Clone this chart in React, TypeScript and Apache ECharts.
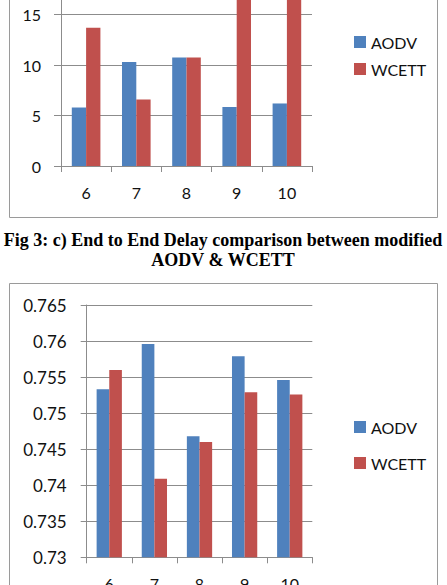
import React, { useEffect, useRef } from "react";
import * as echarts from "echarts";

const nodeCounts = ["6", "7", "8", "9", "10"];
const seriesNames = ["AODV", "WCETT"];
const delayAodv = [5.8, 10.3, 10.75, 5.85, 6.2];
const delayWcett = [13.7, 6.6, 10.75, 18.4, 18.1];
const ratioAodv = [0.7533, 0.7596, 0.7468, 0.7579, 0.7546];
const ratioWcett = [0.756, 0.7409, 0.746, 0.7529, 0.7526];
const captionLines = [
  "Fig 3: c) End to End Delay comparison between modified",
  "AODV & WCETT",
];

const BLUE = "#4F81BD";
const RED = "#C0504D";
const GRID_GRAY = "#8c8c8c";
const FONT = "Lato";
const OFF = 60; // the chart canvas starts above the visible page

export default function App() {
  const ref = useRef<HTMLDivElement>(null);
  useEffect(() => {
    if (!ref.current) return;
    const chart = echarts.init(ref.current, undefined, { renderer: "svg" });
    const axisLine = { show: true, lineStyle: { color: GRID_GRAY, width: 1 } };
    const xAxisBase = {
      type: "category" as const,
      data: nodeCounts,
      axisLine,
      axisTick: { show: true, length: 6, lineStyle: { color: GRID_GRAY } },
      axisLabel: { color: "#111", fontFamily: FONT, fontSize: 16, margin: 18 },
    };
    const legendBase = {
      orient: "vertical" as const,
      left: 354,
      padding: 0,
      itemWidth: 12,
      itemHeight: 12,
      icon: "rect",
      itemTextGap: 4,
      textStyle: { color: "#111", fontFamily: FONT, fontSize: 16 },
      data: seriesNames,
    };
    chart.setOption({
      animation: false,
      backgroundColor: "#ffffff",
      color: [BLUE, RED],
      grid: [
        { left: 61, width: 251, top: OFF - 35.7, height: 201.7 },
        { left: 86.7, width: 225.6, top: OFF + 305, height: 252.3 },
      ],
      xAxis: [
        { ...xAxisBase, gridIndex: 0 },
        { ...xAxisBase, gridIndex: 1 },
      ],
      yAxis: [
        {
          type: "value",
          gridIndex: 0,
          min: 0,
          max: 20,
          interval: 5,
          axisLine,
          axisTick: { show: true, length: 7, lineStyle: { color: GRID_GRAY } },
          splitLine: { lineStyle: { color: GRID_GRAY } },
          axisLabel: { color: "#111", fontFamily: FONT, fontSize: 16, margin: 20, showMaxLabel: false },
        },
        {
          type: "value",
          gridIndex: 1,
          min: 0.73,
          max: 0.765,
          interval: 0.005,
          axisLine,
          axisTick: { show: true, length: 6, lineStyle: { color: GRID_GRAY } },
          splitLine: { lineStyle: { color: GRID_GRAY } },
          axisLabel: { color: "#111", fontFamily: FONT, fontSize: 17, margin: 20 },
        },
      ],
      legend: [
        { ...legendBase, top: OFF + 34, itemGap: 11 },
        { ...legendBase, top: OFF + 419, itemGap: 20 },
      ],
      series: [
        { name: seriesNames[0], type: "bar", xAxisIndex: 0, yAxisIndex: 0, data: delayAodv, barGap: "0%", barCategoryGap: "43%", itemStyle: { color: BLUE } },
        { name: seriesNames[1], type: "bar", xAxisIndex: 0, yAxisIndex: 0, data: delayWcett, barGap: "0%", barCategoryGap: "43%", itemStyle: { color: RED } },
        { name: seriesNames[0], type: "bar", xAxisIndex: 1, yAxisIndex: 1, data: ratioAodv, barGap: "0%", barCategoryGap: "44%", itemStyle: { color: BLUE } },
        { name: seriesNames[1], type: "bar", xAxisIndex: 1, yAxisIndex: 1, data: ratioWcett, barGap: "0%", barCategoryGap: "44%", itemStyle: { color: RED } },
      ],
      graphic: [
        {
          type: "rect",
          shape: { x: 9.5, y: OFF - 20, width: 428, height: 237.5 },
          style: { fill: "none", stroke: "#9a9a9a", lineWidth: 1 },
          silent: true,
        },
        {
          type: "rect",
          shape: { x: 9.5, y: OFF + 283.5, width: 428, height: 340 },
          style: { fill: "none", stroke: "#9a9a9a", lineWidth: 1 },
          silent: true,
        },
        {
          type: "text",
          x: 223,
          y: OFF + 240,
          style: {
            text: captionLines[0],
            font: 'bold 18px "Liberation Serif"',
            fill: "#000",
            textAlign: "center",
            textVerticalAlign: "middle",
          },
        },
        {
          type: "text",
          x: 223,
          y: OFF + 259.5,
          style: {
            text: captionLines[1],
            font: 'bold 18px "Liberation Serif"',
            fill: "#000",
            textAlign: "center",
            textVerticalAlign: "middle",
          },
        },
      ],
    });
    return () => chart.dispose();
  }, []);
  return (
    <div style={{ position: "absolute", left: 0, top: 0, width: 447, height: 585, overflow: "hidden", background: "#fff" }}>
      <div
        ref={ref}
        style={{ position: "absolute", left: 0, top: -OFF, width: 447, height: 585 + OFF + 40 }}
      />
    </div>
  );
}
